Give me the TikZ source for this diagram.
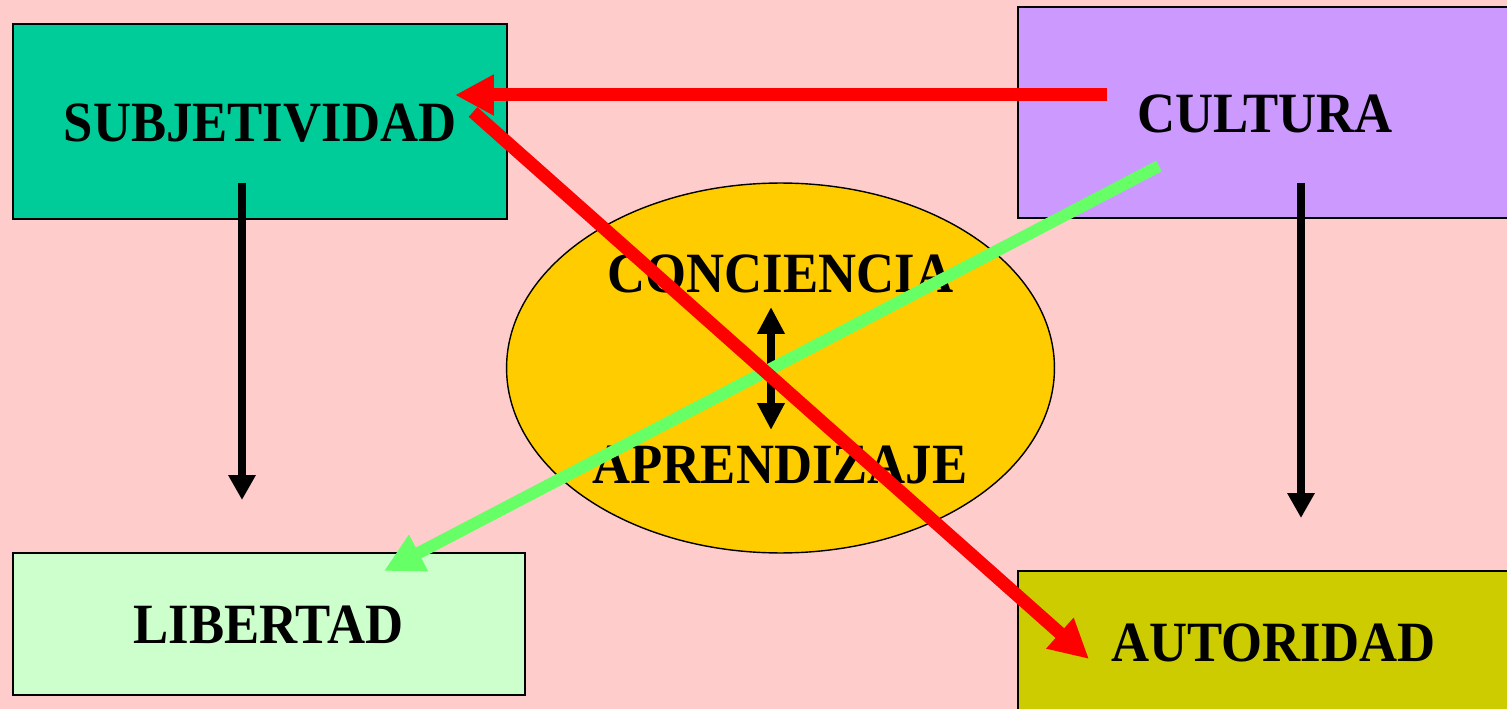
\documentclass[tikz,border=0pt]{standalone}
\usepackage{fontspec}
\usepackage{graphicx}
\setmainfont{Liberation Serif}
\usetikzlibrary{arrows.meta,shapes.geometric}
\definecolor{bgpink}{HTML}{FFCCCC}
\definecolor{teal1}{HTML}{00CC99}
\definecolor{lav}{HTML}{CC99FF}
\definecolor{lgreen}{HTML}{CCFFCC}
\definecolor{olive1}{HTML}{CCCC00}
\definecolor{gold1}{HTML}{FFCC00}
\definecolor{red1}{HTML}{FF0000}
\definecolor{green1}{HTML}{66FF66}
\newcommand{\tallbf}[1]{\scalebox{1}[1.08]{#1}}
\tikzset{
  box/.style={draw=black, line width=0.8pt, rectangle, inner sep=0pt},
  lbl/.style={font=\fontsize{30pt}{36pt}\selectfont\bfseries, inner sep=0pt, anchor=base},
  redarrow/.style={draw=red1, line width=0.26cm, -{Triangle[length=0.78cm,width=0.77cm]}},
  greenarrow/.style={draw=green1, line width=0.24cm, -{Triangle[length=0.78cm,width=0.77cm]}},
  blackarrow/.style={draw=black, line width=0.17cm, -{Triangle[length=0.5cm,width=0.52cm]}},
  dblarrow/.style={draw=black, line width=0.16cm, {Triangle[length=0.54cm,width=0.52cm]}-{Triangle[length=0.54cm,width=0.52cm]}}
}
\begin{document}
\begin{tikzpicture}[x=0.02cm,y=-0.02cm]
\path[use as bounding box, fill=bgpink] (0,0) rectangle (1507,709);
\clip (0,0) rectangle (1507,709);
% boxes
\node[box, fill=teal1, minimum width=9.88cm, minimum height=3.9cm] (subjbox) at (260,121.5) {};
\node[box, fill=lav, minimum width=9.88cm, minimum height=4.22cm] (cultbox) at (1265,112.5) {};
\node[box, fill=lgreen, minimum width=10.24cm, minimum height=2.84cm] (libbox) at (269,624) {};
\node[box, fill=olive1, minimum width=10.24cm, minimum height=2.84cm] (autbox) at (1274,642) {};
% ellipse
\node[ellipse, draw=black, line width=0.8pt, fill=gold1, minimum width=10.96cm, minimum height=7.4cm, inner sep=0pt] (ell) at (780.5,368) {};
% labels
\node[lbl] (subj) at (260,142) {\tallbf{SUBJETIVIDAD}};
\node[lbl] (cult) at (1265,133) {\tallbf{CULTURA}};
\node[lbl] (lib) at (268.5,643) {\tallbf{LIBERTAD}};
\node[lbl] (aut) at (1273.5,661) {\tallbf{AUTORIDAD}};
\node[lbl] (conc) at (780.5,293) {\tallbf{CONCIENCIA}};
\node[lbl] (apr) at (780,483) {\tallbf{APRENDIZAJE}};
% connector end points
\coordinate (sdown) at (242,183);
\coordinate (ltop) at (242,500);
\coordinate (cdown) at (1301,183);
\coordinate (atop) at (1301,518);
\coordinate (dtop) at (771,307);
\coordinate (dbot) at (771,430);
\coordinate (credstart) at (1107,95);
\coordinate (sredend) at (455,95);
\coordinate (sredstart) at (473,112);
\coordinate (aredend) at (1089,659);
\coordinate (cgreenstart) at (1159,166);
\coordinate (lgreenend) at (384,571);
% arrows
\draw[blackarrow] (sdown) -- (ltop);
\draw[blackarrow] (cdown) -- (atop);
\draw[dblarrow] (dtop) -- (dbot);
\draw[greenarrow] (cgreenstart) -- (lgreenend);
\draw[redarrow] (credstart) -- (sredend);
\draw[redarrow] (sredstart) -- (aredend);
\end{tikzpicture}
\end{document}
